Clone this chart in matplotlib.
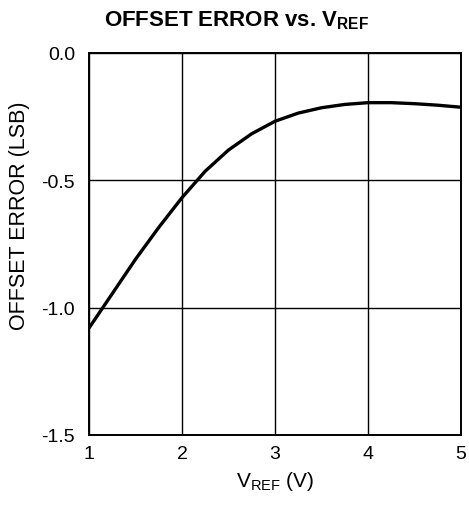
import matplotlib
matplotlib.use("Agg")
import matplotlib.pyplot as plt

vref = [1.0, 1.25, 1.5, 1.75, 2.0, 2.25, 2.5, 2.75, 3.0, 3.25, 3.5, 3.75, 4.0, 4.25, 4.5, 4.75, 5.0]
offset_err = [-1.08, -0.945, -0.81, -0.685, -0.568, -0.464, -0.381, -0.317, -0.268, -0.236, -0.215, -0.202, -0.195, -0.195, -0.199, -0.205, -0.213]

x_ticks = [1, 2, 3, 4, 5]
y_ticks = [-1.5, -1.0, -0.5, 0.0]
y_tick_labels = ["-1.5", "-1.0", "-0.5", "0.0"]

plt.rcParams['font.family'] = ['Liberation Sans', 'DejaVu Sans']
plt.rcParams['mathtext.fontset'] = 'custom'
plt.rcParams['mathtext.rm'] = 'Liberation Sans'
plt.rcParams['mathtext.bf'] = 'Liberation Sans:bold'
plt.rcParams['mathtext.it'] = 'Liberation Sans:italic'

fig = plt.figure(figsize=(4.69, 5.06), dpi=100)
ax = fig.add_axes([89/469, 70/506, 372/469, 382/506])

ax.plot(vref, offset_err, color='black', linewidth=2.4, solid_joinstyle='round', solid_capstyle='butt')
ax.set_xlim(1, 5)
ax.set_ylim(-1.5, 0.0)
ax.set_xticks(x_ticks)
ax.set_yticks(y_ticks)
ax.set_yticklabels(y_tick_labels)
ax.grid(True, color='black', linewidth=1.0)
ax.tick_params(length=0, labelsize=14)
ax.tick_params(axis='y', pad=10)
ax.tick_params(axis='x', pad=7)
for s in ax.spines.values():
    s.set_linewidth(1.4)
    s.set_color('black')

ax.set_xlabel(r"V$_{\mathrm{REF}}$ (V)", fontsize=15, labelpad=5)
fig.text(20/469, 1 - 216/506, "OFFSET ERROR (LSB)", rotation=90, ha='center', va='center', fontsize=15.5)
fig.text(237/469, 1 - 21/506, r"OFFSET ERROR vs. V$_{\mathbf{REF}}$", ha='center', va='center',
         fontsize=16, fontweight='bold')

fig.savefig("out.png", dpi=100)
